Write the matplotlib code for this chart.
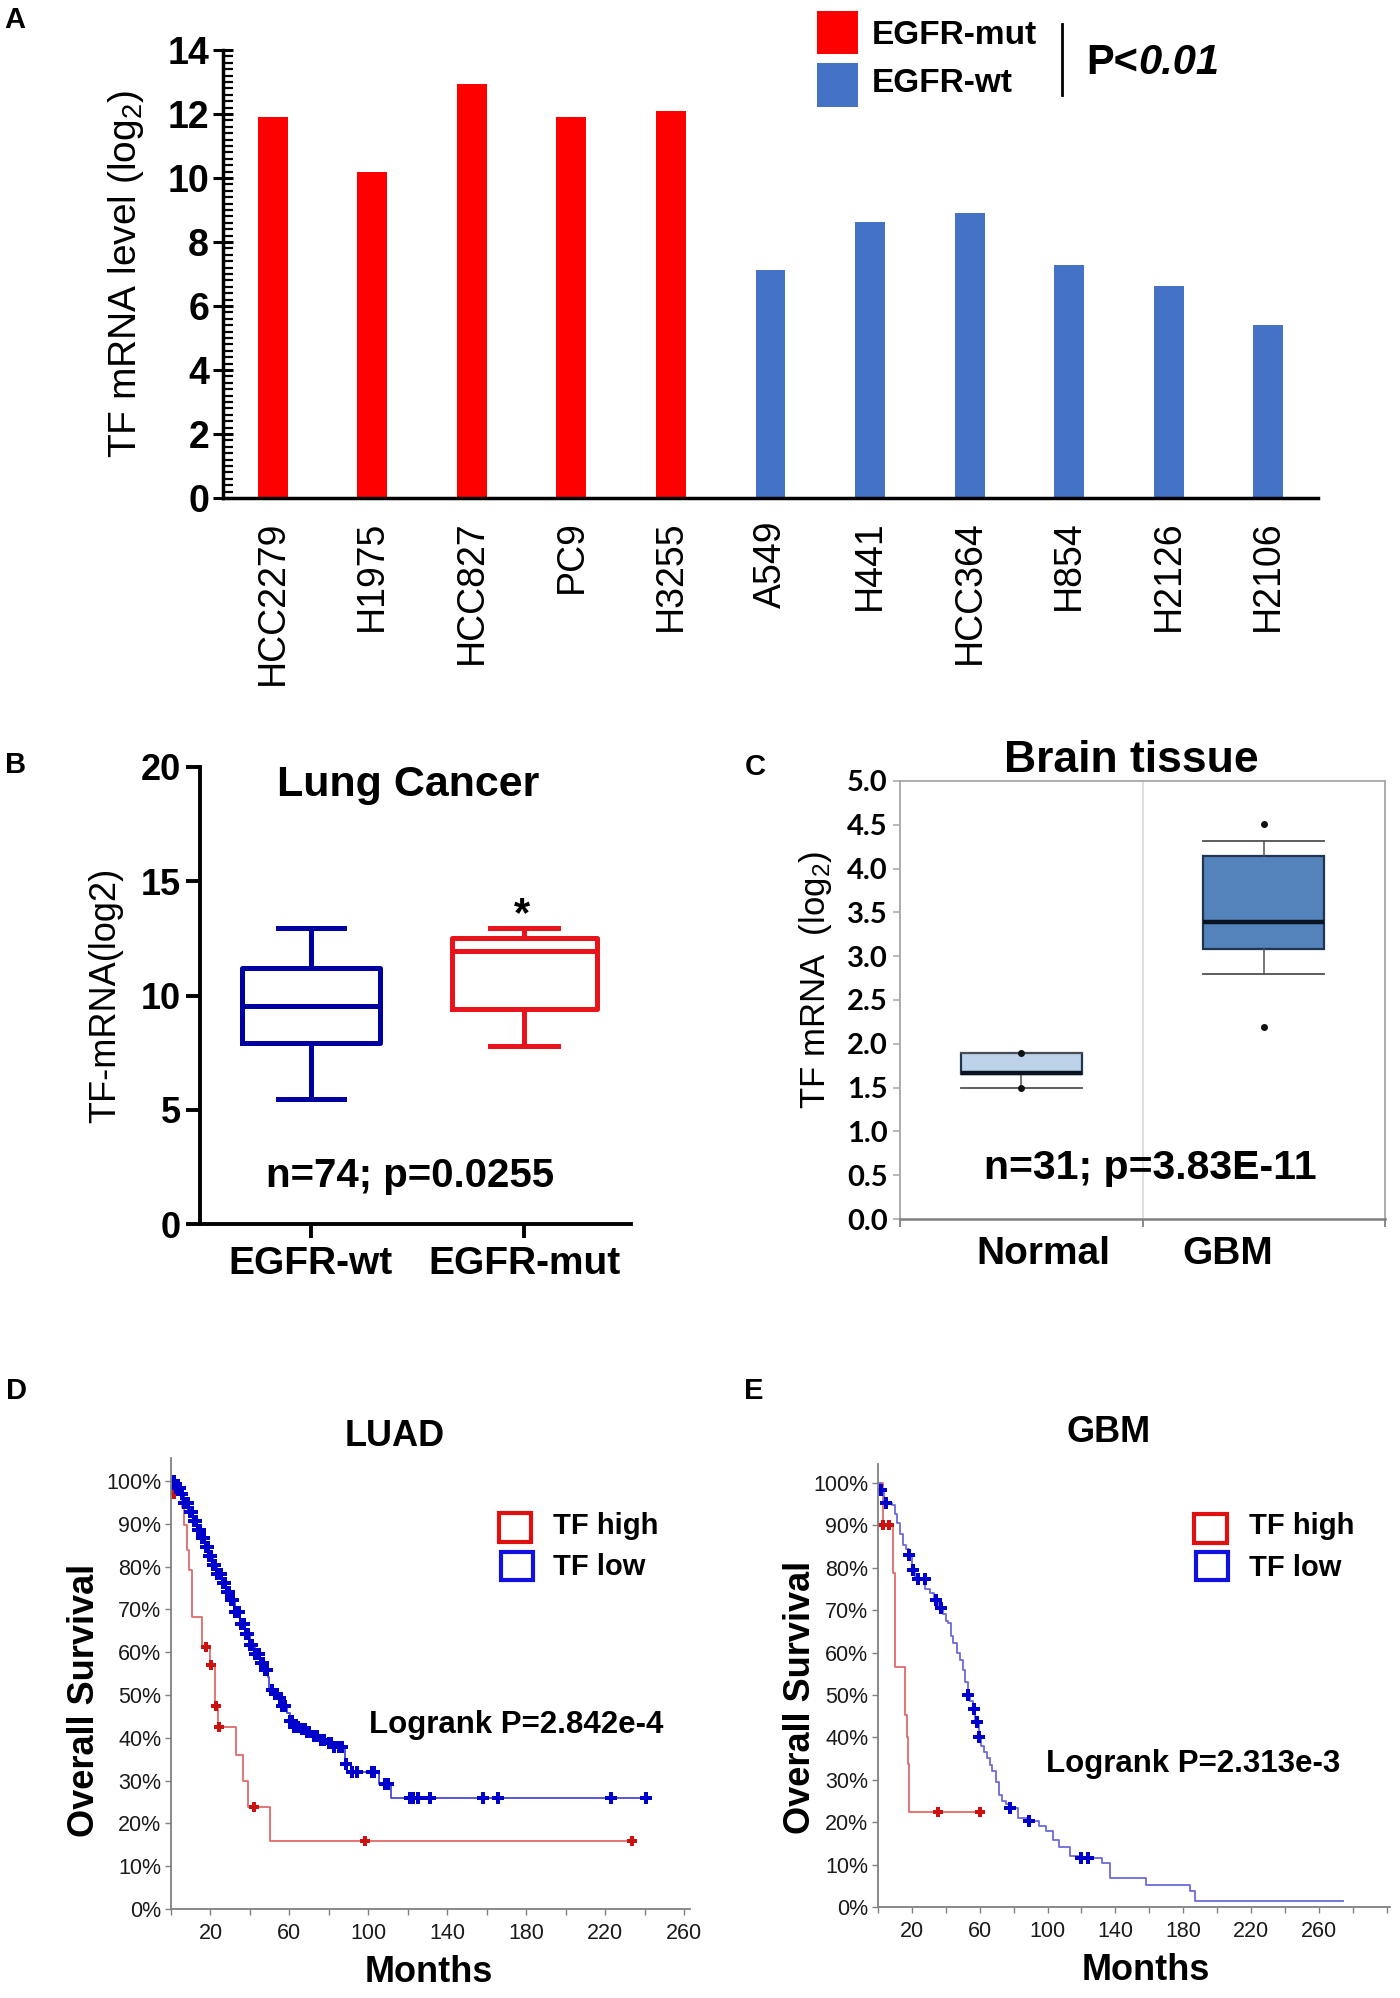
import numpy as np
import matplotlib
matplotlib.use("Agg")
import matplotlib.pyplot as plt
from matplotlib import font_manager
from matplotlib.patches import Rectangle
from matplotlib.lines import Line2D
from matplotlib.ticker import MultipleLocator, PercentFormatter

# ---------------- data ----------------
# A: TF mRNA in cell lines
cell_lines = ["HCC2279", "H1975", "HCC827", "PC9", "H3255",
              "A549", "H441", "HCC364", "H854", "H2126", "H2106"]
mrna_level = [11.92, 10.2, 12.94, 11.9, 12.1, 7.13, 8.64, 8.9, 7.29, 6.61, 5.41]
egfr_status = ["mut", "mut", "mut", "mut", "mut", "wt", "wt", "wt", "wt", "wt", "wt"]

# B: lung cancer box plot
b_groups = ["EGFR-wt", "EGFR-mut"]
b_whislo = [5.47, 7.78]
b_q1 = [7.92, 9.42]
b_med = [9.53, 11.95]
b_q3 = [11.22, 12.5]
b_whishi = [12.94, 12.94]

# C: brain tissue box plot
c_groups = ["Normal", "GBM"]
c_whislo = [1.494, 2.80]
c_q1 = [1.65, 3.084]
c_med = [1.67, 3.388]
c_q3 = [1.895, 4.145]
c_whishi = [1.895, 4.316]
c_fliers = [[1.894, 1.494], [4.506, 2.19]]

# D: LUAD Kaplan-Meier
luad_high_t = [0, 0.5, 5.5, 6.5, 8, 9, 10.5, 15.5, 20, 22.3, 23.8, 33, 36.6, 38.9, 50.2]
luad_high_s = [1.0, .971, .936, .897, .839, .792, .683, .613, .570, .474, .425, .359, .298, .239, .159]
luad_high_end = 233.5
luad_high_cens = [1.5, 17.7, 20.1, 22.8, 24.2, 42.3, 98.4, 233.5]

luad_low_t = [0, 2, 4.6, 6.5, 8.8, 11, 13, 15, 17.2, 19.5, 21.5, 23.5, 25.7, 28, 29.9,
              32.5, 35, 37.5, 40, 42.5, 45, 47, 49.3, 49.8, 51.5, 53.6, 56, 58.6, 60.5,
              62, 66, 68.8, 72, 75.5, 79, 82.3, 88, 89, 105.5, 111.5]
luad_low_s = [1.0, .985, .971, .95, .928, .907, .885, .866, .847, .826, .804, .783, .761, .741, .722,
              .694, .667, .642, .617, .596, .574, .559, .543, .512, .502, .492, .475, .457, .44,
              .426, .42, .414, .405, .395, .387, .379, .339, .32, .292, .26]
luad_low_end = 240.5
luad_low_cens = [1.5, 2.5, 3.5, 4.5, 5.5, 6.5, 7.5, 8.5, 9.5, 10.5, 11.5, 12.5, 13.5, 14.5, 15.5,
                 16.5, 17.5, 18.5, 19.5, 20.5, 21.5, 22.5, 23.5, 24.5, 25.5, 26.5, 27.5, 28.5,
                 29.5, 30.5, 31.5, 32.5, 33.5, 34.5, 35.5, 37, 38, 39, 40, 41, 42.5, 43.5, 44.5,
                 45.5, 46.5, 47.5, 48.5, 51, 52.5, 53.5, 55, 56, 57, 58, 60.5, 61.5, 62.5, 63.5,
                 64.5, 66.5, 68, 69, 70, 72.5, 74, 76, 77.5, 80, 81, 82.5, 85, 86.5, 88.5, 91.5,
                 94.5, 102, 103, 108.5, 110, 121, 122.5, 125, 131, 158, 165.5, 223, 240.5]

# E: GBM Kaplan-Meier
gbm_high_t = [0, 2.7, 8.7, 10, 15.9, 16.9, 17.5, 18.2]
gbm_high_s = [1.0, .901, .787, .567, .453, .40, .337, .224]
gbm_high_end = 61
gbm_high_cens = [2.7, 6.6, 35.3, 60.4]

gbm_low_t = [0, 1.5, 3.5, 8, 10, 11.5, 13, 14.9, 16.5, 18, 20, 22, 25, 28, 30.7, 33, 35.5,
             38.5, 40, 41.5, 43, 44.4, 46.5, 48.3, 50, 51.5, 53, 54.5, 56, 57.5, 59.5, 61,
             62.5, 64.1, 66, 67.5, 69.5, 71.4, 73, 75.4, 77, 82.5, 88, 95, 99, 103, 107,
             113.5, 118, 132, 136.7, 158.3, 184, 187]
gbm_low_s = [1.0, .984, .952, .948, .928, .905, .881, .854, .845, .83, .795, .773, .773, .75,
             .74, .725, .705, .69, .675, .669, .64, .622, .60, .583, .56, .53, .50, .485, .466,
             .437, .402, .38, .365, .351, .335, .321, .295, .265, .25, .244, .233, .21, .202,
             .191, .179, .158, .142, .121, .116, .103, .068, .052, .037, .015]
gbm_low_end = 274
gbm_low_cens = [1.8, 4.5, 18.3, 20.4, 23.8, 27.7, 34.2, 37, 53.2, 56.6, 58.2, 59.7, 78,
                89.3, 120, 123.8]

month_labels = [20, 60, 100, 140, 180, 220, 260]

# ---------------- style ----------------
installed = {f.name for f in font_manager.fontManager.ttflist}
NARROW = "Liberation Sans Narrow" if "Liberation Sans Narrow" in installed else "Liberation Sans"
KM_TICK = 18 if NARROW == "Liberation Sans Narrow" else 15.5
plt.rcParams["font.family"] = ["Liberation Sans", "DejaVu Sans"]
plt.rcParams["mathtext.fontset"] = "custom"
plt.rcParams["mathtext.rm"] = "Liberation Sans"
plt.rcParams["mathtext.it"] = "Liberation Sans:italic"
plt.rcParams["mathtext.bf"] = "Liberation Sans:bold"

W, H = 1400, 1998
RED = "#FF0000"
BLUE = "#4472C4"


def fbox(l, t, r, b):
    return [l / W, 1 - b / H, (r - l) / W, (b - t) / H]


def fpt(x, y):
    return x / W, 1 - y / H


fig = plt.figure(figsize=(W / 100, H / 100), dpi=100)


def panel_letter(txt, x, y):
    fig.text(*fpt(x, y), txt, fontsize=21, fontweight="bold", ha="center", va="center")


def square_key(x0, y0, x1, y1, fc, ec, lw=0):
    fig.add_artist(Rectangle(fpt(x0, y1), (x1 - x0) / W, (y1 - y0) / H,
                             transform=fig.transFigure, facecolor=fc, edgecolor=ec, lw=lw))


# ---------------- A ----------------
axA = fig.add_axes(fbox(223, 50, 1318, 498))
xa = np.arange(len(cell_lines))
bar_colors = [RED if s == "mut" else BLUE for s in egfr_status]
axA.bar(xa, mrna_level, width=0.3, color=bar_colors)
axA.set_xlim(-0.5, 10.5)
axA.set_ylim(0, 14)
axA.set_yticks(range(0, 15, 2))
axA.yaxis.set_minor_locator(MultipleLocator(0.2))
axA.tick_params(axis="y", which="major", direction="inout", length=14, width=2.2,
                labelsize=27, pad=3)
axA.tick_params(axis="y", which="minor", direction="in", length=7, width=1.6)
for lab in axA.get_yticklabels():
    lab.set_fontweight("bold")
axA.set_xticks(xa)
axA.set_xticklabels(cell_lines, rotation=90, fontsize=27)
axA.tick_params(axis="x", length=0, pad=16)
for sp in ["top", "right"]:
    axA.spines[sp].set_visible(False)
for sp in ["left", "bottom"]:
    axA.spines[sp].set_linewidth(2.5)
axA.set_ylabel("TF mRNA level (log$_2$)", fontsize=28, va="center", ha="center")
axA.yaxis.set_label_coords(-0.089, 0.5)
panel_letter("A", 15, 20)

# legend A
square_key(817, 11, 858, 54, RED, "none")
square_key(817, 63, 858, 107, BLUE, "none")
fig.text(*fpt(872, 35), "EGFR-mut", fontsize=24, fontweight="bold", va="center")
fig.text(*fpt(872, 83), "EGFR-wt", fontsize=24, fontweight="bold", va="center")
fig.add_artist(Line2D([1062 / W, 1062 / W], [1 - 24 / H, 1 - 95 / H],
                      transform=fig.transFigure, color="black", lw=2))
tp = fig.text(*fpt(1086, 63), "P<", fontsize=30, fontweight="bold", va="center")
axA.annotate("0.01", xy=(1, 0.5), xycoords=tp, va="center", ha="left",
             fontsize=30, fontweight="bold", fontstyle="italic", annotation_clip=False)

# ---------------- B ----------------
axB = fig.add_axes(fbox(200, 767, 631, 1224))
b_colors = ["#0000A0", "#E8141B"]
b_widths = [0.65, 0.68]
b_caps = [0.31, 0.32]
for i in range(len(b_groups)):
    st = [dict(label=b_groups[i], whislo=b_whislo[i], q1=b_q1[i], med=b_med[i],
               q3=b_q3[i], whishi=b_whishi[i], fliers=[])]
    lp = dict(color=b_colors[i], lw=3.6)
    axB.bxp(st, positions=[i], widths=[b_widths[i]], capwidths=[b_caps[i]],
            showfliers=False, boxprops=lp, whiskerprops=lp, capprops=lp,
            medianprops=lp)
axB.set_xlim(-0.52, 1.5)
axB.set_ylim(0, 20)
axB.set_yticks([0, 5, 10, 15, 20])
axB.set_xticks([0, 1])
axB.set_xticklabels(b_groups)
axB.tick_params(axis="both", length=10, width=2.8, labelsize=26)
axB.tick_params(axis="x", labelsize=28, pad=6)
for lab in axB.get_yticklabels() + axB.get_xticklabels():
    lab.set_fontweight("bold")
for sp in ["top", "right"]:
    axB.spines[sp].set_visible(False)
for sp in ["left", "bottom"]:
    axB.spines[sp].set_linewidth(2.8)
axB.set_ylabel("TF-mRNA(log2)", fontsize=26, va="center", ha="center")
axB.yaxis.set_label_coords(-0.218, 0.5)
axB.text(0.455, 19.2, "Lung Cancer", fontsize=31, fontweight="bold", ha="center", va="center")
axB.text(0.465, 2.1, "n=74; p=0.0255", fontsize=29, fontweight="bold", ha="center", va="center")
axB.text(0.99, 13.5, "*", fontsize=30, fontweight="bold", ha="center", va="center")
panel_letter("B", 16, 765)

# ---------------- C ----------------
axC = fig.add_axes(fbox(900, 781, 1385, 1219))
c_fill = ["#BDD3EA", "#5482BB"]
for i in range(len(c_groups)):
    st = [dict(label=c_groups[i], whislo=c_whislo[i], q1=c_q1[i], med=c_med[i],
               q3=c_q3[i], whishi=c_whishi[i], fliers=c_fliers[i])]
    axC.bxp(st, positions=[i], widths=[0.5], capwidths=[0.5], patch_artist=True,
            boxprops=dict(facecolor=c_fill[i], edgecolor="#1F3550", lw=1.6),
            whiskerprops=dict(color="#505050", lw=1.1),
            capprops=dict(color="#505050", lw=1.3),
            medianprops=dict(color="#0A1420", lw=3.2),
            flierprops=dict(marker="o", ms=4, markerfacecolor="#111111",
                            markeredgecolor="#111111"))
axC.axvline(0.5, color="#D5D5D5", lw=1.1, zorder=0)
axC.set_xlim(-0.5, 1.5)
axC.set_ylim(0, 5)
axC.set_yticks(np.arange(0, 5.01, 0.5))
axC.set_yticklabels([f"{v:.1f}" for v in np.arange(0, 5.01, 0.5)])
# group labels sit slightly off the box centres in the original
axC.set_xticks([0.09, 0.85])
axC.set_xticklabels(c_groups)
axC.set_xticks([-0.5, 0.5, 1.5], minor=True)
for sp in ["top", "right", "left"]:
    axC.spines[sp].set_color("#A6A6A6")
    axC.spines[sp].set_linewidth(1.3)
axC.spines["bottom"].set_color("#7F7F7F")
axC.spines["bottom"].set_linewidth(1.8)
axC.tick_params(axis="y", length=5, width=1.1, color="#A6A6A6", labelsize=21, pad=4)
axC.tick_params(axis="x", which="major", length=0, labelsize=28, pad=12)
axC.tick_params(axis="x", which="minor", length=6, width=1.3, color="#7F7F7F")
for lab in axC.get_yticklabels():
    lab.set_fontfamily(["Lato", "Liberation Sans"])
    lab.set_fontweight("bold")
for lab in axC.get_xticklabels():
    lab.set_fontweight("bold")
axC.set_ylabel("TF mRNA  (log$_2$)", fontsize=25, va="center", ha="center")
axC.yaxis.set_label_coords(-0.175, 0.546)
axC.text(0.531, 0.58, "n=31; p=3.83E-11", fontsize=29.5, fontweight="bold",
         ha="center", va="center")
fig.text(*fpt(1131, 760), "Brain tissue", fontsize=32, fontweight="bold",
         ha="center", va="center")
panel_letter("C", 755, 767)


# ---------------- D / E ----------------
def km(ax, t, s, t_end, cens, line_c, mark_c, ms):
    t = np.asarray(t, float)
    s = np.asarray(s, float)
    ax.step(np.append(t, t_end), np.append(s, s[-1]), where="post", color=line_c, lw=1.3)
    idx = np.searchsorted(t, cens, side="right") - 1
    ax.plot(cens, s[idx], ls="none", marker="P", ms=ms, color=mark_c, mew=0)


def km_axes(ax, xmax, ymax):
    ax.set_xlim(0, xmax)
    ax.set_ylim(0, ymax)
    ax.set_yticks(np.arange(0, 1.01, 0.1))
    ax.yaxis.set_major_formatter(PercentFormatter(xmax=1, decimals=0))
    ax.set_xticks(month_labels)
    ax.xaxis.set_minor_locator(MultipleLocator(20))
    for sp in ["top", "right"]:
        ax.spines[sp].set_visible(False)
    for sp in ["left", "bottom"]:
        ax.spines[sp].set_color("#808080")
        ax.spines[sp].set_linewidth(1.3)
    ax.tick_params(which="both", length=4, width=1, color="#808080", labelsize=KM_TICK, pad=3)
    ax.tick_params(axis="x", pad=6)
    for lab in ax.get_yticklabels() + ax.get_xticklabels():
        lab.set_fontfamily([NARROW, "DejaVu Sans"])
        lab.set_color("#1A1A1A")


axD = fig.add_axes(fbox(171, 1458, 690, 1909))
km(axD, luad_high_t, luad_high_s, luad_high_end, luad_high_cens, "#E06A6A", "#CC1111", 7.5)
km(axD, luad_low_t, luad_low_s, luad_low_end, luad_low_cens, "#4A4AD6", "#0000CC", 9)
km_axes(axD, 263, 1.054)
axD.text(175, 0.43, "Logrank P=2.842e-4", fontsize=22.5, fontweight="bold",
         ha="center", va="center")
axD.set_ylabel("Overall Survival", fontsize=26, fontweight="bold", va="center", ha="center")
axD.yaxis.set_label_coords(-0.166, 0.463)
fig.text(*fpt(429, 1972), "Months", fontsize=26, fontweight="bold", ha="center", va="center")
fig.text(*fpt(395, 1436), "LUAD", fontsize=26, fontweight="bold", ha="center", va="center")
square_key(499, 1513, 531, 1542, "none", "#E01010", 3)
square_key(501, 1552, 533, 1580, "none", "#1010E0", 3)
fig.text(*fpt(553, 1526), "TF high", fontsize=21, fontweight="bold", va="center")
fig.text(*fpt(553, 1567), "TF low", fontsize=21, fontweight="bold", va="center")
panel_letter("D", 16, 1391)

axE = fig.add_axes(fbox(878, 1464, 1390, 1907))
km(axE, gbm_high_t, gbm_high_s, gbm_high_end, gbm_high_cens, "#E06A6A", "#CC1111", 7.5)
km(axE, gbm_low_t, gbm_low_s, gbm_low_end, gbm_low_cens, "#6A6ADA", "#0000CC", 8.5)
km_axes(axE, 302, 1.045)
axE.text(185.7, 0.337, "Logrank P=2.313e-3", fontsize=22.5, fontweight="bold",
         ha="center", va="center")
axE.set_ylabel("Overall Survival", fontsize=26, fontweight="bold", va="center", ha="center")
axE.yaxis.set_label_coords(-0.152, 0.474)
fig.text(*fpt(1146, 1970), "Months", fontsize=26, fontweight="bold", ha="center", va="center")
fig.text(*fpt(1109, 1433), "GBM", fontsize=26, fontweight="bold", ha="center", va="center")
square_key(1194, 1514, 1227, 1543, "none", "#E01010", 3)
square_key(1196, 1552, 1228, 1580, "none", "#1010E0", 3)
fig.text(*fpt(1249, 1526), "TF high", fontsize=21, fontweight="bold", va="center")
fig.text(*fpt(1249, 1568), "TF low", fontsize=21, fontweight="bold", va="center")
panel_letter("E", 754, 1391)

fig.savefig("out.png", dpi=100)
